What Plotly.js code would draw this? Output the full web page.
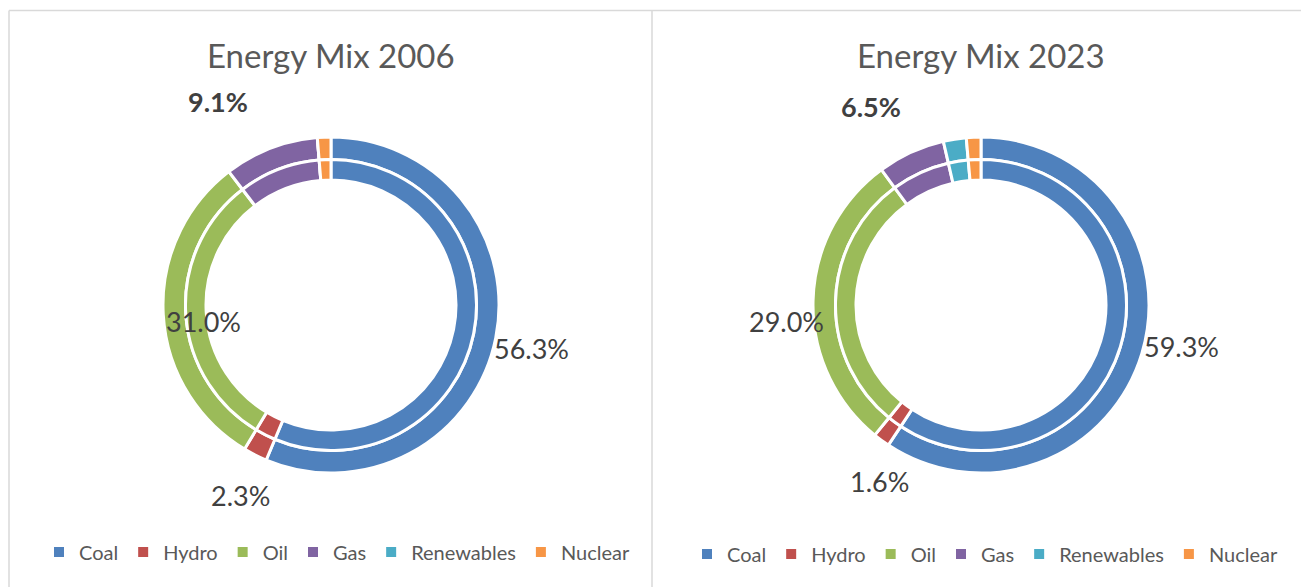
<!DOCTYPE html>
<html><head><meta charset="utf-8">
<script src="https://cdn.plot.ly/plotly-3.0.1.min.js"></script>
<style>html,body{margin:0;padding:0;background:#fff;}#chart{width:1301px;height:587px;}</style>
</head><body><div id="chart"></div>
<script>
// ---- data ----
const categories = ['Coal', 'Hydro', 'Oil', 'Gas', 'Renewables', 'Nuclear'];
const values2006 = [56.3, 2.3, 31.0, 9.1, 0, 1.3];
const values2023 = [59.3, 1.6, 29.0, 6.5, 2.2, 1.4];
const titles = ['Energy Mix 2006', 'Energy Mix 2023'];
const labelledCategories = ['Coal', 'Hydro', 'Oil', 'Gas'];
const boldCategories = ['Gas'];

// ---- styles / layout ----
const colors = ['#4F81BD', '#C0504D', '#9BBB59', '#8064A2', '#4BACC6', '#F79646'];
const FONT = 'Lato, "Open Sans", sans-serif';
const W = 1301, H = 587;
const px = x => x / W, py = y => 1 - y / H;
function dom(cx, cy, r) { return {x: [px(cx - r), px(cx + r)], y: [py(cy + r), py(cy - r)]}; }

const panels = [
  {values: values2006, title: titles[0], cx: 331, cy: 305, legend: 'legend',
   labelPos: {Coal: [531, 348], Hydro: [241, 495], Oil: [203, 321], Gas: [218, 101]}},
  {values: values2023, title: titles[1], cx: 981, cy: 305, legend: 'legend2',
   labelPos: {Coal: [1181, 346], Hydro: [879, 481], Oil: [786, 321], Gas: [871, 106]}}
];
const R_OUT = 168, R_MID = 145.5, R_IN = 125;

const traces = [];
const annotations = [];
panels.forEach((p, i) => {
  [[R_OUT, R_MID], [R_MID, R_IN]].forEach(([r, rh]) => {
    traces.push({
      type: 'pie', labels: categories, values: p.values,
      sort: false, direction: 'clockwise', rotation: 0,
      hole: rh / r, domain: dom(p.cx, p.cy, r),
      marker: {colors: colors, line: {color: '#ffffff', width: 3}},
      textinfo: 'none', hoverinfo: 'label+percent',
      showlegend: false
    });
  });
  // legend entries for this panel (one per category)
  categories.forEach((c, k) => {
    traces.push({
      type: 'scatter', mode: 'markers', x: [null], y: [null], name: c,
      marker: {symbol: 'square', size: 10, color: colors[k]},
      showlegend: true, legend: p.legend, hoverinfo: 'skip'
    });
  });
  annotations.push({
    text: p.title, xref: 'paper', yref: 'paper', x: px(p.cx), y: py(55),
    xanchor: 'center', yanchor: 'middle', showarrow: false,
    font: {family: FONT, size: 33, color: '#595959'}
  });
  categories.forEach((c, k) => {
    if (!labelledCategories.includes(c)) return;
    const pos = p.labelPos[c];
    const t = p.values[k].toFixed(1) + '%';
    annotations.push({
      text: boldCategories.includes(c) ? '<b>' + t + '</b>' : t,
      xref: 'paper', yref: 'paper', x: px(pos[0]), y: py(pos[1]),
      xanchor: 'center', yanchor: 'middle', showarrow: false,
      font: {family: FONT, size: 27, color: '#404040'}
    });
  });
});

const legendBase = {
  orientation: 'h', xanchor: 'center', yanchor: 'middle',
  font: {family: FONT, size: 20, color: '#595959'},
  bgcolor: 'rgba(0,0,0,0)', itemwidth: 30, tracegroupgap: 0,
  itemclick: false, itemdoubleclick: false
};

const layout = {
  width: W, height: H,
  margin: {l: 0, r: 0, t: 0, b: 0},
  paper_bgcolor: '#ffffff', plot_bgcolor: 'rgba(0,0,0,0)',
  font: {family: FONT, color: '#595959'},
  xaxis: {visible: false, showgrid: false, zeroline: false},
  yaxis: {visible: false, showgrid: false, zeroline: false},
  annotations: annotations,
  legend: Object.assign({}, legendBase, {x: px(337), y: py(552)}),
  legend2: Object.assign({}, legendBase, {x: px(985), y: py(554)}),
  shapes: [
    {type: 'line', xref: 'paper', yref: 'paper', x0: px(9), x1: px(1301), y0: py(10.5), y1: py(10.5), line: {color: '#d9d9d9', width: 1.5}},
    {type: 'line', xref: 'paper', yref: 'paper', x0: px(9), x1: px(9), y0: py(10.5), y1: 0, line: {color: '#d9d9d9', width: 1.5}},
    {type: 'line', xref: 'paper', yref: 'paper', x0: px(652), x1: px(652), y0: py(10.5), y1: 0, line: {color: '#d9d9d9', width: 1.5}}
  ]
};

Plotly.newPlot('chart', traces, layout, {displayModeBar: false, staticPlot: true});
</script>
</body></html>
